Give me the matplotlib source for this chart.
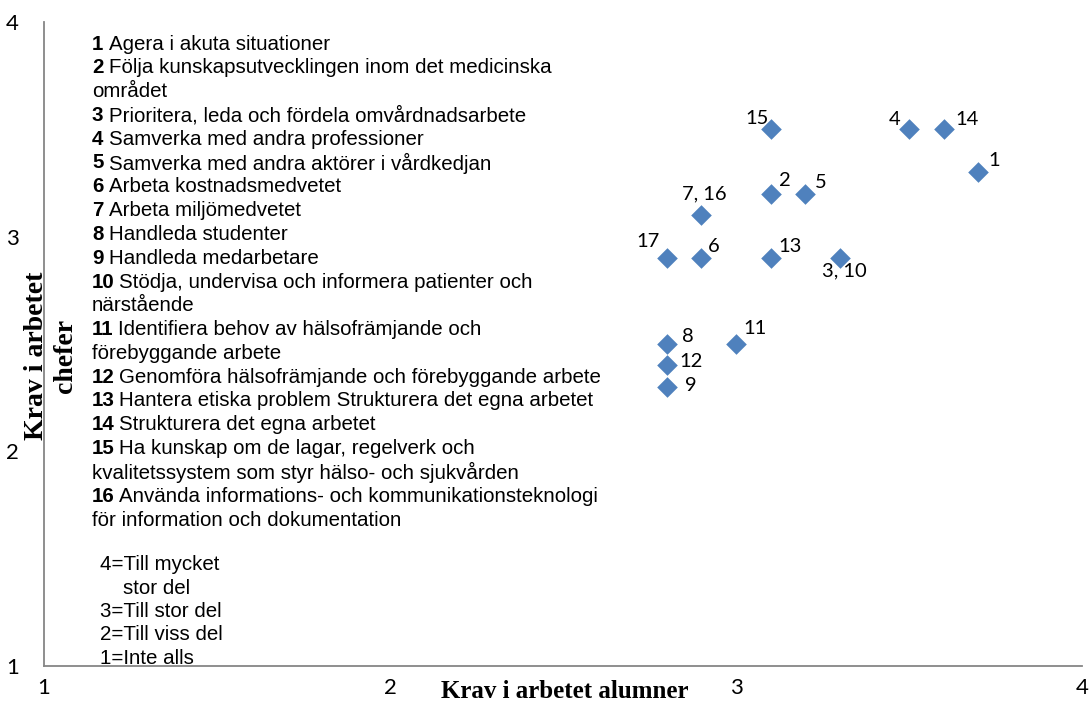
import matplotlib
matplotlib.use("Agg")
import matplotlib.pyplot as plt

# Data: (alumner, chefer) per item
labels = ["15", "4", "14", "1", "2", "5", "7, 16", "17", "6", "13", "3, 10", "8", "11", "12", "9"]
x_alumner = [3.1, 3.5, 3.6, 3.7, 3.1, 3.2, 2.9, 2.8, 2.9, 3.1, 3.3, 2.8, 3.0, 2.8, 2.8]
y_chefer = [3.5, 3.5, 3.5, 3.3, 3.2, 3.2, 3.1, 2.9, 2.9, 2.9, 2.9, 2.5, 2.5, 2.4, 2.3]
# label offsets in pixels (placement style)
label_offsets = [(-2, 11, "right"), (-8, 10, "right"), (12, 10, "left"), (10, 12, "left"),
                 (8, 13, "left"), (10, 11, "left"), (3, 21, "center"), (-7, 17, "right"),
                 (6, 12, "left"), (8, 12, "left"), (5, -13, "center"), (15, 7, "left"),
                 (7, 15, "left"), (13, 4, "left"), (18, 1, "left")]

ticks = [1, 2, 3, 4]
tick_labels = ["1", "2", "3", "4"]

legend_nums = ["1", "2", "", "3", "4", "5", "6", "7", "8", "9", "10", "", "11", "",
               "12", "13", "14", "15", "", "16", ""]
legend_texts = ["Agera i akuta situationer",
                "Följa kunskapsutvecklingen inom det medicinska",
                "området",
                "Prioritera, leda och fördela omvårdnadsarbete",
                "Samverka med andra professioner",
                "Samverka med andra aktörer i vårdkedjan",
                "Arbeta kostnadsmedvetet",
                "Arbeta miljömedvetet",
                "Handleda studenter",
                "Handleda medarbetare",
                "Stödja, undervisa och informera patienter och",
                "närstående",
                "Identifiera behov av hälsofrämjande och",
                "förebyggande arbete",
                "Genomföra hälsofrämjande och förebyggande arbete",
                "Hantera etiska problem Strukturera det egna arbetet",
                "Strukturera det egna arbetet",
                "Ha kunskap om de lagar, regelverk och",
                "kvalitetssystem som styr hälso- och sjukvården",
                "Använda informations- och kommunikationsteknologi",
                "för information och dokumentation"]
scale_texts = ["4=Till mycket", "    stor del", "3=Till stor del", "2=Till viss del", "1=Inte alls"]

W, H = 1091, 710
fig = plt.figure(figsize=(W / 100, H / 100), dpi=100)
ax = fig.add_axes([44 / W, 1 - 666 / H, (1082 - 44) / W, (666 - 22) / H])
ax.set_xlim(1, 4)
ax.set_ylim(1, 4)
for s in ["top", "right"]:
    ax.spines[s].set_visible(False)
for s in ["left", "bottom"]:
    ax.spines[s].set_color("#868686")
    ax.spines[s].set_linewidth(1.3)
ax.tick_params(length=0)
ax.set_xticks(ticks)
ax.set_xticklabels(tick_labels, family="Lato", fontsize=16)
ax.set_yticks(ticks)
ax.set_yticklabels(tick_labels, family="Lato", fontsize=16)
ax.tick_params(axis="x", pad=9)
ax.tick_params(axis="y", pad=18)

ax.scatter(x_alumner, y_chefer, marker="D", s=10.5 ** 2, color="#4F81BD", zorder=3, linewidths=0)
for lab, xv, yv, (dx, dy, ha) in zip(labels, x_alumner, y_chefer, label_offsets):
    ax.annotate(lab, (xv, yv), xytext=(dx, dy), textcoords="offset pixels",
                ha=ha, va="center", family="Lato", fontsize=14.5, color="black")

ax.set_xlabel("Krav i arbetet alumner", family="Liberation Serif", fontweight="bold",
              fontsize=18, va="center")
ax.xaxis.set_label_coords((565 - 44) / 1038, -(692 - 666) / 644)
ax.set_ylabel("Krav i arbetet\nchefer", family="Liberation Serif", fontweight="bold",
              fontsize=20, va="center", ha="center", linespacing=1.2,
              bbox=dict(facecolor="white", edgecolor="none", pad=1))
ax.yaxis.set_label_coords((51 - 44) / 1038, (666 - 356) / 644)

# legend text block
y0 = 44
dy = 23.8
fs = 14.8
for i, (num, txt) in enumerate(zip(legend_nums, legend_texts)):
    ypx = y0 + i * dy
    if num:
        t = fig.text(92 / W, 1 - ypx / H, num, family="Liberation Sans", fontweight="bold",
                     fontsize=fs, va="center", ha="left")
        gap = 6 if len(num) == 1 else 4
        ax.annotate(txt, xy=(1, 0.5), xycoords=t, xytext=(gap, 0), textcoords="offset pixels",
                    family="Liberation Sans", fontsize=fs, va="center", ha="left",
                    annotation_clip=False)
    else:
        fig.text(92 / W, 1 - ypx / H, txt, family="Liberation Sans",
                 fontsize=fs, va="center", ha="left")

sy0 = 565
sdy = 23.3
for i, txt in enumerate(scale_texts):
    fig.text(100 / W, 1 - (sy0 + i * sdy) / H, txt, family="Liberation Sans",
             fontsize=fs, va="center", ha="left")

fig.savefig("out.png", dpi=100)
